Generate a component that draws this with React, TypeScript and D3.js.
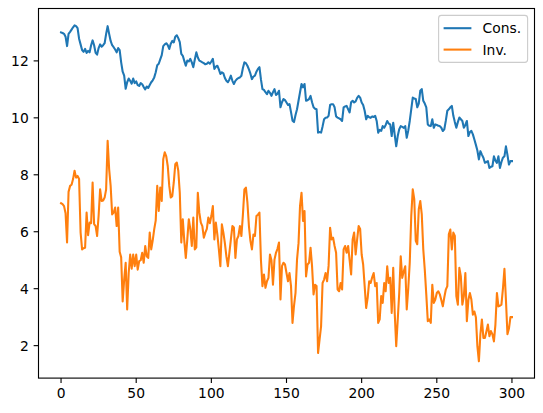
import React from 'react';
import * as d3 from 'd3';

const xTicks = [0, 50, 100, 150, 200, 250, 300];
const yTicks = [2, 4, 6, 8, 10, 12];
const seriesNames = ['Cons.', 'Inv.'];
const seriesColors = ['#1f77b4', '#ff7f0e'];

const cons = [
  13.00, 12.98, 12.95, 12.85, 12.52, 12.95, 13.02, 13.10, 13.18, 13.25,
  13.22, 13.15, 12.78, 12.58, 12.38, 12.32, 12.42, 12.28, 12.35, 12.30,
  12.55, 12.72, 12.55, 12.28, 12.22, 12.45, 12.58, 12.50, 12.55, 12.62,
  12.95, 13.22, 12.95, 12.70, 12.55, 12.48, 12.40, 12.30, 12.45, 12.38,
  11.95, 11.62, 11.48, 11.02, 11.25, 11.38, 11.30, 11.20, 11.38, 11.22,
  11.28, 11.15, 11.12, 11.22, 11.18, 11.08, 11.00, 11.10, 11.05, 11.15,
  11.25, 11.32, 11.42, 11.60, 11.85, 11.90, 12.05, 12.20, 12.52, 12.58,
  12.62, 12.55, 12.42, 12.60, 12.70, 12.65, 12.85, 12.90, 12.80, 12.66,
  12.25, 12.18, 12.00, 11.83, 12.01, 11.98, 12.07, 11.95, 11.78, 12.05,
  12.30, 12.12, 12.01, 11.98, 11.95, 11.92, 11.88, 11.90, 11.95, 11.90,
  11.98, 12.07, 11.72, 11.80, 11.83, 11.70, 11.54, 11.60, 11.56, 11.40,
  11.30, 11.25, 11.35, 11.48, 11.30, 11.19, 11.30, 11.36, 11.40, 11.42,
  11.48, 11.75, 11.95, 11.92, 11.83, 11.70, 11.55, 11.36, 11.45, 11.48,
  11.62, 11.72, 11.78, 11.35, 11.01, 10.98, 10.90, 10.83, 10.95, 10.88,
  10.77, 10.90, 11.01, 10.80, 10.85, 10.95, 10.37, 10.55, 10.66, 10.62,
  10.54, 10.45, 10.48, 10.20, 9.90, 9.85, 10.10, 10.30, 10.60, 10.90,
  11.19, 11.07, 11.19, 10.60, 10.62, 10.66, 10.77, 10.55, 10.37, 10.32,
  10.30, 9.48, 9.50, 9.48, 9.70, 9.95, 10.00, 10.01, 10.07, 10.45,
  10.48, 10.48, 10.37, 10.05, 10.01, 9.98, 9.95, 9.89, 10.37, 10.40,
  10.42, 10.30, 10.19, 10.55, 10.60, 10.54, 10.58, 10.70, 10.77, 10.71,
  10.54, 10.45, 10.25, 9.95, 10.07, 10.02, 10.00, 10.05, 10.03, 10.07,
  9.89, 9.48, 9.58, 9.54, 9.71, 9.65, 9.75, 9.89, 9.80, 9.77,
  9.36, 9.83, 9.40, 9.00, 9.36, 9.60, 9.71, 9.68, 9.65, 9.71,
  9.30, 9.55, 9.89, 10.30, 10.71, 10.68, 10.66, 10.37, 10.50, 10.95,
  11.01, 10.60, 10.50, 10.37, 9.77, 9.72, 9.71, 9.95, 9.65, 9.77,
  9.75, 9.72, 9.71, 9.65, 9.54, 9.60, 9.90, 10.25, 10.30, 10.37,
  10.42, 10.07, 9.85, 9.65, 9.85, 10.01, 9.95, 9.89, 9.65, 9.75,
  9.89, 9.36, 9.50, 9.54, 9.42, 9.24, 9.05, 8.85, 8.54, 8.83,
  8.71, 8.60, 8.42, 8.45, 8.48, 8.24, 8.28, 8.30, 8.65, 8.50,
  8.42, 8.65, 8.24, 8.45, 8.60, 8.65, 9.00, 8.70, 8.36, 8.48,
  8.48,
];

const inv = [
  7.00, 6.97, 6.90, 6.65, 5.62, 7.40, 7.61, 7.65, 7.85, 8.14,
  7.90, 7.96, 7.85, 5.98, 5.38, 5.42, 5.44, 6.67, 5.88, 6.32,
  6.30, 7.73, 6.27, 6.20, 5.85, 6.57, 7.49, 7.08, 7.10, 7.20,
  7.49, 9.19, 8.20, 7.61, 6.61, 6.67, 6.85, 6.20, 6.85, 5.30,
  5.10, 3.55, 4.32, 4.91, 3.27, 4.55, 5.20, 4.70, 5.20, 4.79,
  5.20, 4.67, 4.97, 5.00, 5.26, 4.91, 5.50, 5.14, 5.08, 5.97,
  5.38, 5.70, 6.09, 6.40, 7.61, 6.73, 7.55, 7.08, 8.55, 8.79,
  8.65, 8.30, 7.61, 7.20, 7.25, 7.73, 8.37, 8.43, 8.14, 7.37,
  5.62, 6.44, 5.68, 5.08, 5.73, 6.44, 6.10, 5.50, 6.50, 5.38,
  5.45, 7.37, 6.67, 6.32, 6.20, 5.79, 5.97, 6.10, 6.50, 6.30,
  6.55, 6.90, 5.73, 6.32, 5.90, 5.38, 4.79, 6.26, 5.97, 5.60,
  5.14, 4.79, 5.26, 5.73, 6.20, 6.15, 5.08, 5.73, 5.85, 6.20,
  5.85, 6.60, 7.49, 7.55, 7.02, 6.20, 5.68, 5.38, 5.90, 5.85,
  6.55, 6.60, 6.67, 5.00, 4.09, 4.50, 4.03, 4.26, 4.38, 5.20,
  5.00, 4.14, 5.02, 5.26, 5.40, 5.62, 3.62, 4.79, 4.91, 4.85,
  4.55, 4.26, 4.55, 4.09, 2.80, 3.40, 3.85, 5.02, 5.60, 6.90,
  7.37, 6.38, 6.73, 4.43, 4.85, 4.91, 5.44, 4.79, 3.80, 4.14,
  4.09, 1.74, 2.21, 2.68, 4.20, 4.32, 4.55, 4.26, 4.80, 6.14,
  5.73, 5.79, 5.50, 5.26, 3.97, 3.91, 4.20, 3.97, 5.38, 5.50,
  5.26, 5.50, 5.00, 4.50, 5.73, 5.97, 5.20, 5.73, 6.20, 6.10,
  5.20, 4.85, 4.09, 3.32, 3.68, 4.26, 4.20, 4.40, 4.55, 4.09,
  4.20, 2.80, 2.92, 3.74, 3.50, 4.20, 3.91, 4.79, 4.20, 4.38,
  3.15, 4.73, 3.15, 1.98, 2.90, 3.85, 5.14, 4.38, 4.60, 4.79,
  3.27, 4.00, 4.91, 6.55, 7.49, 7.14, 5.68, 5.56, 6.79, 7.08,
  6.61, 5.38, 4.67, 3.80, 2.86, 2.92, 2.80, 4.14, 3.50, 3.62,
  3.85, 3.91, 3.80, 3.60, 3.38, 3.70, 3.97, 4.09, 5.91, 6.08,
  5.38, 5.97, 5.85, 3.74, 3.44, 4.73, 4.43, 3.44, 3.74, 4.55,
  2.86, 3.60, 3.85, 3.62, 3.09, 3.20, 3.00, 1.98, 1.45, 2.40,
  2.92, 2.27, 2.27, 2.50, 2.74, 2.33, 2.51, 2.40, 2.15, 2.74,
  3.85, 3.38, 3.40, 3.44, 4.00, 4.70, 3.60, 2.40, 2.60, 3.00,
  3.00,
];

const FONT = '"DejaVu Sans", sans-serif';
const FS = 13.89;

export default function App() {
  const W = 543;
  const H = 413;
  const left = 38.5;
  const right = 534.5;
  const top = 8.5;
  const bottom = 378.1;

  const all = cons.concat(inv);
  const mn = d3.min(all) as number;
  const mx = d3.max(all) as number;
  const pad = (mx - mn) * 0.05;
  const n = cons.length - 1;

  const x = d3.scaleLinear().domain([-n * 0.05, n * 1.05]).range([left, right]);
  const y = d3.scaleLinear().domain([mn - pad, mx + pad]).range([bottom, top]);
  const line = d3
    .line<number>()
    .x((_, i) => x(i))
    .y((d) => y(d));

  const series = [cons, inv];
  const tickLen = 4.86;

  const legLeft = 438.6;
  const legRight = 527.6;
  const legTop = 15.4;
  const legH = 47;
  const rowY = [28.2, 49.6];

  return (
    <div style={{ position: 'absolute', left: 0, top: 0 }}>
      <svg width={W} height={H} style={{ display: 'block', background: '#fff' }}>
        <defs>
          <clipPath id="plotclip">
            <rect x={left} y={top} width={right - left} height={bottom - top} />
          </clipPath>
        </defs>
        <g clipPath="url(#plotclip)">
          {series.map((s, k) => (
            <path
              key={k}
              d={line(s) || ''}
              fill="none"
              stroke={seriesColors[k]}
              strokeWidth={2.08}
              strokeLinejoin="round"
              strokeLinecap="square"
            />
          ))}
        </g>
        <rect
          x={left}
          y={top}
          width={right - left}
          height={bottom - top}
          fill="none"
          stroke="#000"
          strokeWidth={1.11}
        />
        {xTicks.map((t) => (
          <g key={'x' + t}>
            <line x1={x(t)} x2={x(t)} y1={bottom} y2={bottom + tickLen} stroke="#000" strokeWidth={1.11} />
            <text
              x={x(t)}
              y={bottom + tickLen + 4.86 + 10.6}
              textAnchor="middle"
              fontFamily={FONT}
              fontSize={FS}
              fill="#000"
            >
              {t}
            </text>
          </g>
        ))}
        {yTicks.map((t) => (
          <g key={'y' + t}>
            <line x1={left - tickLen} x2={left} y1={y(t)} y2={y(t)} stroke="#000" strokeWidth={1.11} />
            <text
              x={left - tickLen - 4.86}
              y={y(t)}
              dy="0.36em"
              textAnchor="end"
              fontFamily={FONT}
              fontSize={FS}
              fill="#000"
            >
              {t}
            </text>
          </g>
        ))}
        <rect
          x={legLeft}
          y={legTop}
          width={legRight - legLeft}
          height={legH}
          rx={2.8}
          ry={2.8}
          fill="#fff"
          fillOpacity={0.8}
          stroke="#cccccc"
          strokeWidth={1.11}
        />
        {seriesNames.map((name, k) => (
          <g key={name}>
            <line
              x1={legLeft + 5.0}
              x2={legLeft + 5.0 + 27.8}
              y1={rowY[k]}
              y2={rowY[k]}
              stroke={seriesColors[k]}
              strokeWidth={2.08}
            />
            <text
              x={legLeft + 5.0 + 27.8 + 11.1}
              y={rowY[k]}
              dy="0.36em"
              fontFamily={FONT}
              fontSize={FS}
              fill="#000"
            >
              {name}
            </text>
          </g>
        ))}
      </svg>
    </div>
  );
}
